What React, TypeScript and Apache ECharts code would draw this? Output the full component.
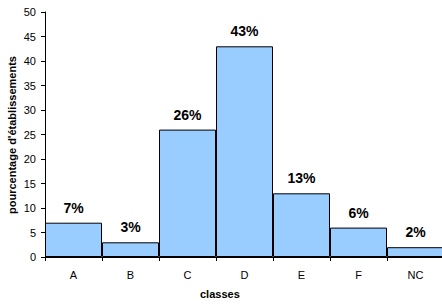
import React, { useEffect, useRef } from "react";
import * as echarts from "echarts";

const categories = ["A", "B", "C", "D", "E", "F", "NC"];
const values = [7, 3, 26, 43, 13, 6, 2];
const yTitle = "pourcentage d'établissements";
const xTitle = "classes";

export default function App() {
  const ref = useRef<HTMLDivElement>(null);
  useEffect(() => {
    const chart = echarts.init(ref.current!, null, { renderer: "svg" });
    chart.setOption({
      animation: false,
      grid: { left: 45, width: 399, top: 12, bottom: 47, containLabel: false, outerBoundsMode: "none" },
      xAxis: {
        type: "category",
        data: categories,
        axisLine: { lineStyle: { color: "#000", width: 1 } },
        axisTick: { show: true, alignWithLabel: false, length: 4, lineStyle: { color: "#000" } },
        axisLabel: { color: "#000", fontFamily: "Liberation Sans, Arial", fontSize: 11, margin: 12 },
        splitLine: { show: false },
      },
      yAxis: {
        type: "value",
        min: 0,
        max: 50,
        interval: 5,
        axisLine: { show: true, lineStyle: { color: "#000", width: 1 } },
        axisTick: { show: true, length: 4, lineStyle: { color: "#000" } },
        axisLabel: { color: "#000", fontFamily: "Liberation Sans, Arial", fontSize: 11, margin: 9 },
        splitLine: { show: false },
      },
      graphic: [
        {
          type: "text",
          x: 12,
          y: 135,
          rotation: Math.PI / 2,
          style: {
            text: yTitle,
            fill: "#000",
            font: "bold 11px 'Liberation Sans', Arial",
            align: "center",
            verticalAlign: "middle",
          },
        },
        {
          type: "text",
          left: 200,
          top: 288,
          style: { text: xTitle, fill: "#000", font: "bold 11px 'Liberation Sans', Arial" },
        },
      ],
      series: [
        {
          type: "bar",
          data: values,
          barCategoryGap: "0%",
          itemStyle: { color: "#99CCFF", borderColor: "#000", borderWidth: 1 },
          label: {
            show: true,
            position: "top",
            distance: 8,
            formatter: "{c}%",
            color: "#000",
            fontFamily: "Liberation Sans, Arial",
            fontSize: 14,
            fontWeight: "bold",
          },
        },
      ],
    });
    return () => chart.dispose();
  }, []);
  return <div ref={ref} style={{ position: "absolute", left: 0, top: 0, width: 442, height: 304 }} />;
}
